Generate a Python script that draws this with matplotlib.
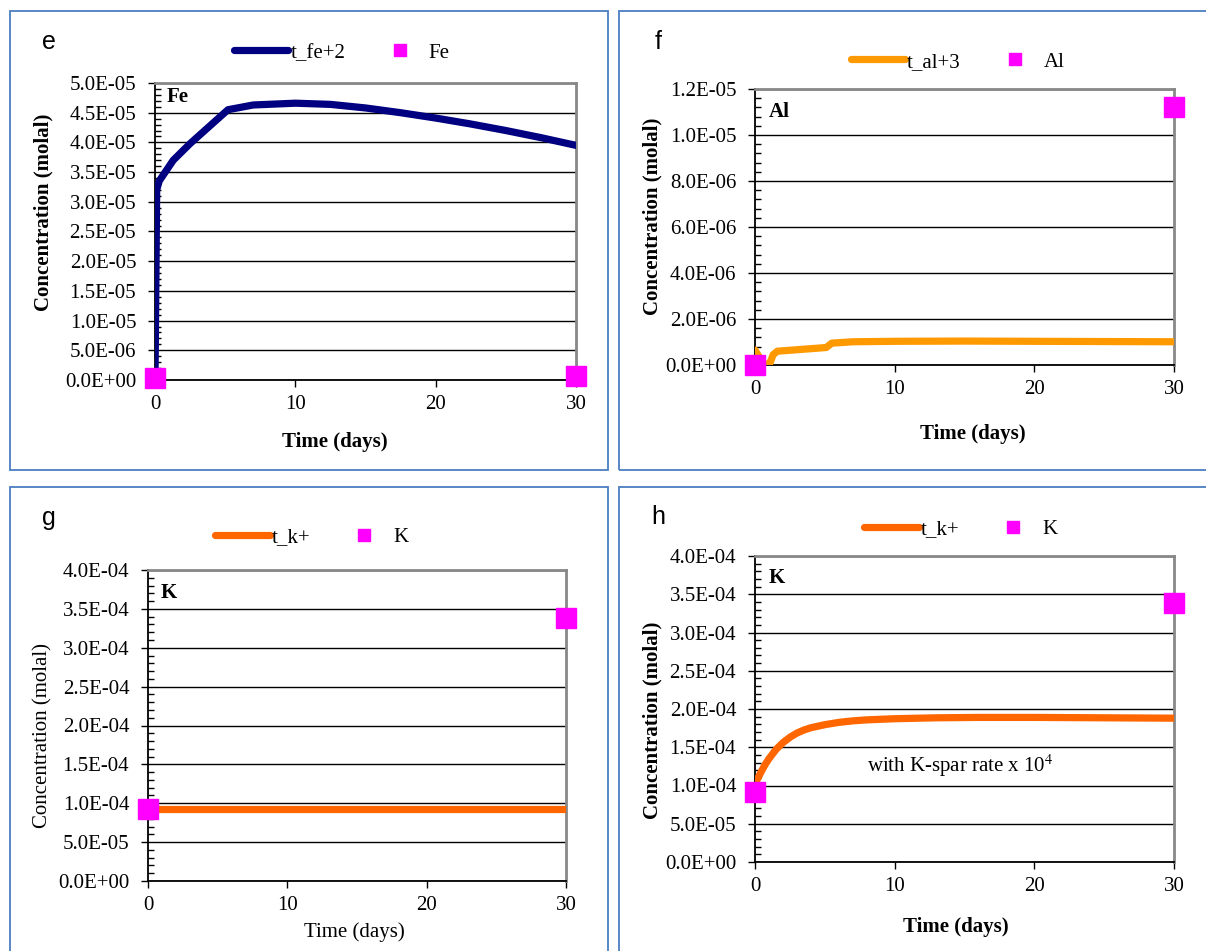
import matplotlib
matplotlib.use("Agg")
import matplotlib.pyplot as plt
from matplotlib.ticker import MultipleLocator, AutoMinorLocator, FuncFormatter
from matplotlib.patches import Rectangle

plt.rcParams['font.family'] = 'Liberation Serif'
plt.rcParams['mathtext.fontset'] = 'stix'

W, H = 1206, 951

# panel e: Fe
fe_t = [0, 0.12, 0.3, 1.3, 2.5, 5.2, 7, 10, 12.5, 15, 17.5, 20, 22.5, 25, 27.5, 30]
fe_model = [0, 3.2e-5, 3.35e-5, 3.7e-5, 3.98e-5, 4.55e-5, 4.63e-5, 4.66e-5, 4.64e-5,
            4.58e-5, 4.5e-5, 4.41e-5, 4.31e-5, 4.2e-5, 4.08e-5, 3.95e-5]
fe_obs_t = [0, 30]
fe_obs = [3e-7, 7e-7]

# panel f: Al
al_t = [0, 0.6, 1.05, 1.3, 1.6, 5.1, 5.5, 7, 10, 15, 20, 25, 30]
al_model = [0.65e-6, 0.05e-6, 0.05e-6, 0.45e-6, 0.6e-6, 0.76e-6, 0.95e-6, 1.01e-6,
            1.03e-6, 1.04e-6, 1.03e-6, 1.02e-6, 1.01e-6]
al_obs_t = [0, 30]
al_obs = [0, 1.12e-5]

# panel g: K
kg_t = [0, 10, 20, 30]
kg_model = [9.25e-5, 9.25e-5, 9.25e-5, 9.25e-5]
kg_obs_t = [0, 30]
kg_obs = [9.3e-5, 3.38e-4]

# panel h: K with K-spar rate x 10^4
kh_t = [0, 0.25, 0.5, 0.75, 1, 1.5, 2, 2.5, 3, 3.5, 4, 5, 6, 7, 8, 10, 13, 16, 20, 25, 30]
kh_model = [1.02e-4, 1.11e-4, 1.2e-4, 1.28e-4, 1.35e-4, 1.47e-4, 1.56e-4, 1.63e-4,
            1.685e-4, 1.725e-4, 1.755e-4, 1.795e-4, 1.825e-4, 1.845e-4, 1.858e-4,
            1.873e-4, 1.885e-4, 1.89e-4, 1.89e-4, 1.885e-4, 1.88e-4]
kh_obs_t = [0, 30]
kh_obs = [9.2e-5, 3.39e-4]

fig = plt.figure(figsize=(W / 100, H / 100), dpi=100)


def fx(x):
    return x / W


def fy(y):
    return 1 - y / H


def make_axes(left, right, top, bottom):
    return fig.add_axes([fx(left), fy(bottom), (right - left) / W, (bottom - top) / H])


def setup(ax, ymax, ystep):
    ax.set_xlim(0, 30)
    ax.set_ylim(0, ymax)
    ax.xaxis.set_major_locator(MultipleLocator(10))
    ax.yaxis.set_major_locator(MultipleLocator(ystep))
    ax.yaxis.set_minor_locator(AutoMinorLocator(5))
    ax.yaxis.set_major_formatter(FuncFormatter(lambda v, p: f'{v:.1E}'))
    ax.grid(axis='y', which='major', color='black', lw=1)
    ax.set_axisbelow(True)
    for s in ('top', 'right'):
        ax.spines[s].set_color('#888888')
        ax.spines[s].set_linewidth(2)
    for s in ('left', 'bottom'):
        ax.spines[s].set_color('black')
        ax.spines[s].set_linewidth(1.3)
    ax.tick_params(axis='y', which='major', direction='out', length=5, width=1,
                   labelsize=15, pad=8.5)
    ax.tick_params(axis='y', which='minor', direction='in', length=4, width=1)
    ax.tick_params(axis='x', which='major', direction='out', length=5, width=1,
                   labelsize=15, pad=6)


def panel(box, t, model, obs_t, obs, color, line_lab, obs_lab, ymax, ystep,
          leg_xy, letter_xy, letter, inner_xy, inner, ylab_xy, xlab_xy, bold):
    ax = make_axes(*box)
    setup(ax, ymax, ystep)
    ax.plot(t, model, color=color, lw=5.2, solid_capstyle='round',
            solid_joinstyle='round', label=line_lab, zorder=3)
    ax.plot(obs_t, obs, 's', color='#FF00FF', ms=15, clip_on=False,
            label=obs_lab, zorder=4)
    ax.legend(loc='center', bbox_to_anchor=(fx(leg_xy[0]), fy(leg_xy[1])),
              bbox_transform=fig.transFigure, ncol=2, frameon=False, fontsize=15,
              handlelength=2.6, handletextpad=0.1, columnspacing=1.3,
              markerscale=0.55, borderaxespad=0, borderpad=0)
    fig.text(fx(letter_xy[0]), fy(letter_xy[1]), letter, family='Liberation Sans',
             fontsize=18, ha='center', va='center')
    fig.text(fx(inner_xy[0]), fy(inner_xy[1]), inner, fontsize=15, fontweight='bold',
             ha='left', va='center')
    w = 'bold' if bold else 'normal'
    fig.text(fx(ylab_xy[0]), fy(ylab_xy[1]), 'Concentration (molal)', fontsize=15,
             fontweight=w, rotation=90, ha='center', va='center')
    fig.text(fx(xlab_xy[0]), fy(xlab_xy[1]), 'Time (days)', fontsize=15,
             fontweight=w, ha='center', va='center')
    return ax


panel((155, 576, 83, 380), fe_t, fe_model, fe_obs_t, fe_obs, '#000080', 't_fe+2', 'Fe',
      5e-5, 5e-6, (342, 53), (49, 42), 'e', (167, 97), 'Fe', (43, 212), (335, 442), True)
panel((755, 1174, 89, 365), al_t, al_model, al_obs_t, al_obs, '#FF9900', 't_al+3', 'Al',
      1.2e-5, 2e-6, (958, 62), (658, 42), 'f', (769, 112), 'Al', (652, 216), (973, 434), True)
panel((148, 566, 570, 881), kg_t, kg_model, kg_obs_t, kg_obs, '#FF6600', 't_k+', 'K',
      4e-4, 5e-5, (312, 537), (49, 518), 'g', (161, 593), 'K', (43, 735), (354, 932), False)
axh = panel((755, 1174, 556, 862), kh_t, kh_model, kh_obs_t, kh_obs, '#FF6600', 't_k+', 'K',
            4e-4, 5e-5, (961, 529), (658, 517), 'h', (769, 578), 'K', (652, 720), (956, 927), True)
fig.text(fx(867), fy(766), 'with K-spar rate x 10$^{4}$', fontsize=15, ha='left', va='center')

# blue frames around the four panels
for x0, y0, x1, y1 in [(10, 11, 608, 470), (619, 11, 1215, 470),
                       (10, 487, 608, 960), (619, 487, 1215, 960)]:
    fig.add_artist(Rectangle((fx(x0), fy(y1)), (x1 - x0) / W, (y1 - y0) / H,
                             transform=fig.transFigure, fill=False,
                             edgecolor='#4A7EC0', lw=1.3))

plt.savefig("out.png", dpi=100)
